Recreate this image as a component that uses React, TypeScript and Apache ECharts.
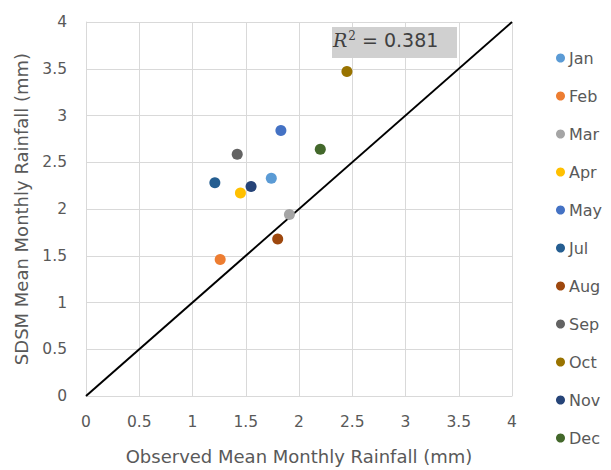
import React, { useEffect, useRef } from "react";
import * as echarts from "echarts";

const months = ["Jan", "Feb", "Mar", "Apr", "May", "Jul", "Aug", "Sep", "Oct", "Nov", "Dec"];
const observed = [1.74, 1.26, 1.91, 1.45, 1.83, 1.21, 1.80, 1.42, 2.45, 1.55, 2.20];
const sdsm = [2.33, 1.46, 1.94, 2.17, 2.84, 2.28, 1.68, 2.585, 3.47, 2.24, 2.64];
const colors = ["#5B9BD5", "#ED7D31", "#A5A5A5", "#FFC000", "#4472C4", "#255E91", "#9E480E", "#636363", "#997300", "#264478", "#43682B"];
const lineX = [0, 4];
const lineY = [0, 4];
const r2Label = "0.381";

const FONT = "DejaVu Sans";
const TXT = "#595959";
const GRID = "#d9d9d9";

export default function App() {
  const ref = useRef<HTMLDivElement>(null);
  useEffect(() => {
    if (!ref.current) return;
    document.body.style.margin = "0";
    const chart = echarts.init(ref.current, null, { renderer: "svg" });
    const series: any[] = months.map((m, i) => ({
      name: m,
      type: "scatter",
      symbol: "circle",
      symbolSize: 11,
      itemStyle: { color: colors[i], opacity: 1 },
      data: [[observed[i], sdsm[i]]],
      z: 3,
    }));
    series.push({
      name: "fit",
      type: "line",
      data: lineX.map((x, i) => [x, lineY[i]]),
      symbol: "none",
      lineStyle: { color: "#000", width: 2 },
      z: 2,
    });
    chart.setOption({
      animation: false,
      textStyle: { fontFamily: FONT },
      grid: { left: 86, right: 99, top: 22, bottom: 72 },
      xAxis: {
        type: "value",
        min: 0,
        max: 4,
        interval: 0.5,
        name: "Observed Mean Monthly Rainfall (mm)",
        nameLocation: "middle",
        nameGap: 51,
        nameTextStyle: { color: TXT, fontSize: 18, fontFamily: FONT },
        axisLine: { show: true, lineStyle: { color: GRID } },
        axisTick: { show: false },
        axisLabel: { color: TXT, fontSize: 15.5, margin: 18, fontFamily: FONT },
        splitLine: { show: true, lineStyle: { color: GRID, width: 1 } },
      },
      yAxis: {
        type: "value",
        min: 0,
        max: 4,
        interval: 0.5,
        name: "SDSM Mean Monthly Rainfall (mm)",
        nameLocation: "middle",
        nameGap: 56,
        nameTextStyle: { color: TXT, fontSize: 18, fontFamily: FONT },
        axisLine: { show: true, lineStyle: { color: GRID } },
        axisTick: { show: false },
        axisLabel: { color: TXT, fontSize: 15.5, margin: 19, fontFamily: FONT },
        splitLine: { show: true, lineStyle: { color: GRID, width: 1 } },
      },
      legend: {
        data: months,
        orient: "vertical",
        left: 551,
        top: 45,
        icon: "circle",
        itemWidth: 9,
        itemHeight: 9,
        itemGap: 22,
        textStyle: { color: TXT, fontSize: 16, fontFamily: FONT, padding: [0, 0, 0, -1] },
      },
      graphic: [
        {
          type: "rect",
          left: 332,
          top: 27,
          shape: { width: 125, height: 31 },
          style: { fill: "#d0d0d0" },
          z: 10,
        },
        {
          type: "text",
          left: 333,
          top: 30,
          z: 11,
          style: {
            text: "{r|R}{s|2}{t| = " + r2Label + "}",
            rich: {
              r: { fontFamily: "DejaVu Serif", fontStyle: "italic", fontSize: 19, fill: "#404040" },
              s: { fontFamily: "DejaVu Serif", fontSize: 12, fill: "#404040", verticalAlign: "top", padding: [0, 0, 8, 1] },
              t: { fontFamily: FONT, fontSize: 19, fill: "#404040" },
            },
          },
        },
      ],
      series,
    });
    return () => chart.dispose();
  }, []);
  return <div ref={ref} style={{ width: 611, height: 470 }} />;
}
